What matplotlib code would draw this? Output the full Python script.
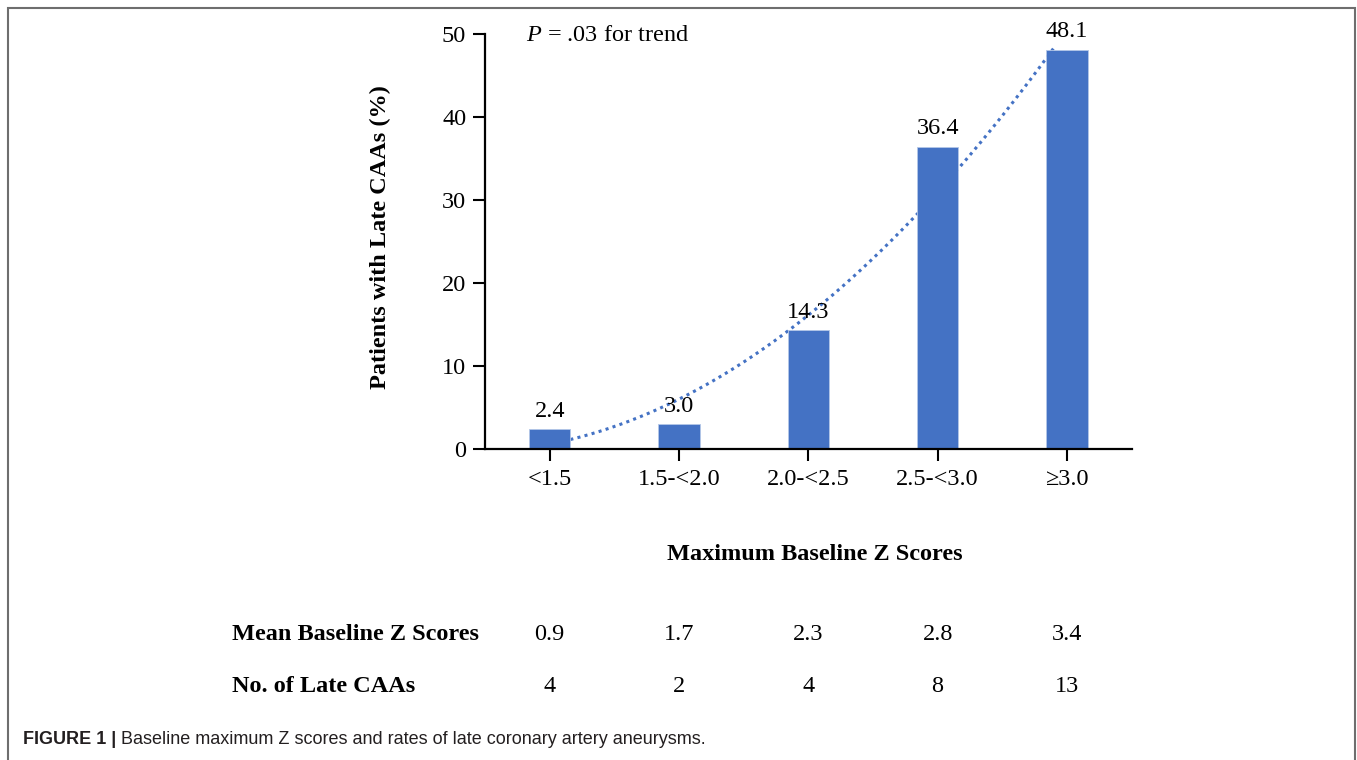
import numpy as np
import matplotlib
matplotlib.use('Agg')
import matplotlib.pyplot as plt
from matplotlib.patches import Rectangle
import matplotlib.transforms as mtransforms

plt.rcParams['font.family'] = ['Liberation Serif', 'DejaVu Serif']
plt.rcParams['mathtext.fontset'] = 'custom'
plt.rcParams['mathtext.rm'] = 'Liberation Serif'
plt.rcParams['mathtext.it'] = 'Liberation Serif:italic'

# ============================================================
# Data
# ============================================================
categories = ['<1.5', '1.5-<2.0', '2.0-<2.5', '2.5-<3.0', '\u22653.0']
late_caa_pct = [2.4, 3.0, 14.3, 36.4, 48.1]
pct_labels = ['2.4', '3.0', '14.3', '36.4', '48.1']
mean_z = ['0.9', '1.7', '2.3', '2.8', '3.4']
n_late_caa = ['4', '2', '4', '8', '13']

bar_color = '#4472C4'
FS = 17.5

# ============================================================
# Figure
# ============================================================
fig = plt.figure(figsize=(13.57, 7.6), dpi=100)
ax = fig.add_axes([0.3574, 0.4092, 0.4765, 0.5461])

x = np.arange(len(categories))

# quadratic trend line (fitted to the plotted values), drawn under bars
coef = np.polyfit(x, late_caa_pct, 2)
xt = np.linspace(0.16, 3.9, 200)
ax.plot(xt, np.polyval(coef, xt), color=bar_color, ls=(0, (1, 1.4)), lw=2.2, zorder=1)

ax.bar(x, late_caa_pct, width=0.32, color=bar_color, edgecolor='#b4c7e7',
       linewidth=0.6, zorder=2)

for xi, v, lab in zip(x, late_caa_pct, pct_labels):
    ax.text(xi, v + 0.9, lab, ha='center', va='bottom', fontsize=FS, zorder=3)

ax.set_xlim(-0.5, 4.5)
ax.set_ylim(0, 50)
ax.set_yticks([0, 10, 20, 30, 40, 50])
ax.set_xticks(x)
ax.set_xticklabels(categories)
ax.tick_params(axis='both', labelsize=FS, length=8.5, width=1.5, direction='out')
ax.tick_params(axis='x', pad=6)
ax.tick_params(axis='y', pad=5)

for side in ['top', 'right']:
    ax.spines[side].set_visible(False)
for side in ['left', 'bottom']:
    ax.spines[side].set_linewidth(1.6)

ax.set_ylabel('Patients with Late CAAs (%)', fontsize=FS, fontweight='bold')
ax.yaxis.set_label_coords(-0.146, 0.51)

ax.text(-0.18, 49.8, r'$P$ = .03 for trend', ha='left', va='center', fontsize=FS)

fig.text(815 / 1357, 1 - 554 / 760, 'Maximum Baseline Z Scores', ha='center',
         va='center', fontsize=FS, fontweight='bold')

# ============================================================
# Table rows under the chart
# ============================================================
trans = mtransforms.blended_transform_factory(ax.transData, fig.transFigure)
row_y = [1 - 634 / 760, 1 - 686 / 760]
fig.text(232 / 1357, row_y[0], 'Mean Baseline Z Scores', ha='left', va='center',
         fontsize=FS, fontweight='bold')
fig.text(232 / 1357, row_y[1], 'No. of Late CAAs', ha='left', va='center',
         fontsize=FS, fontweight='bold')
for xi, mz, n in zip(x, mean_z, n_late_caa):
    ax.text(xi, row_y[0], mz, transform=trans, ha='center', va='center',
            fontsize=FS, clip_on=False)
    ax.text(xi, row_y[1], n, transform=trans, ha='center', va='center',
            fontsize=FS, clip_on=False)

# ============================================================
# Frame and caption
# ============================================================
frame = Rectangle((7.5 / 1357, -0.1), (1355 - 7.5) / 1357, 1.1 - 8.5 / 760,
                  transform=fig.transFigure, fill=False, edgecolor='#6e6e6e',
                  linewidth=1.5)
fig.add_artist(frame)

cap_y = 1 - 740 / 760
t1 = fig.text(23 / 1357, cap_y, 'FIGURE 1 | ', ha='left', va='center', fontsize=13,
              fontweight='bold', color='#231f20',
              family=['Liberation Sans Narrow', 'Liberation Sans'])
fig.canvas.draw()
bb = t1.get_window_extent()
fig.text(bb.x1 / fig.bbox.width, cap_y,
         'Baseline maximum Z scores and rates of late coronary artery aneurysms.',
         ha='left', va='center', fontsize=13, color='#231f20',
         family=['Liberation Sans Narrow', 'Liberation Sans'])

fig.savefig('out.png', dpi=100)
